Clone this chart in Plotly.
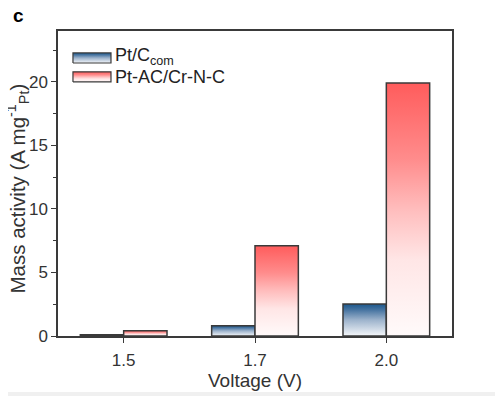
import plotly.graph_objects as go

categories = ["1.5", "1.7", "2.0"]
series_names = ["Pt/C<sub>com</sub>", "Pt-AC/Cr-N-C"]
pt_c_com = [0.10, 0.80, 2.52]
pt_ac_crnc = [0.42, 7.10, 19.90]
series_values = [pt_c_com, pt_ac_crnc]
y_title = "Mass activity (A mg<sup>-1</sup><sub>Pt</sub>)"
x_title = "Voltage (V)"

colorscales = [
    [[0, "#f5f7fa"], [0.5, "#9db3cc"], [0.8, "#4b77a3"], [1, "#1a578c"]],
    [[0, "#fffafa"], [0.3, "#ffe6e6"], [0.5, "#ffbdbd"], [0.7, "#ff8c8c"], [1, "#ff5c5c"]],
]
edge = "#3a3a3a"

bar_w = 0.33
offsets = [-bar_w / 2, bar_w / 2]

fig = go.Figure()
for s, (name, vals) in enumerate(zip(series_names, series_values)):
    for j, v in enumerate(vals):
        xc = j + offsets[s]
        x0, x1 = xc - bar_w / 2, xc + bar_w / 2
        fig.add_trace(go.Scatter(
            x=[x0, x1, x1, x0, x0],
            y=[0, 0, v, v, 0],
            mode="lines",
            fill="toself",
            fillgradient=dict(type="vertical", colorscale=colorscales[s], start=0, stop=v),
            line=dict(color=edge, width=1.5),
            name=name,
            showlegend=False,
            hoverinfo="skip",
        ))

# legend drawn on an overlay axis in paper-like units
leg_x0, leg_x1 = 0.038, 0.1345
leg_rows = [(0.895, 0.928), (0.833, 0.866)]
leg_text_y = [0.918, 0.848]
annotations = []
for s, name in enumerate(series_names):
    y0, y1 = leg_rows[s]
    fig.add_trace(go.Scatter(
        x=[leg_x0, leg_x1, leg_x1, leg_x0, leg_x0],
        y=[y0, y0, y1, y1, y0],
        xaxis="x2", yaxis="y2",
        mode="lines", fill="toself",
        fillgradient=dict(type="vertical", colorscale=colorscales[s], start=y0, stop=y1),
        line=dict(color=edge, width=1.2),
        showlegend=False, hoverinfo="skip",
    ))
    annotations.append(dict(text=name, xref="paper", yref="paper", x=0.139, y=leg_text_y[s],
                            xanchor="left", yanchor="middle", showarrow=False,
                            font=dict(size=18, color="#222222")))

annotations.append(dict(text="<b>c</b>", xref="paper", yref="paper", x=-0.12, y=1.05,
                        xanchor="left", yanchor="middle", showarrow=False,
                        font=dict(size=19, color="#000000")))
annotations.append(dict(text=y_title, xref="paper", yref="paper", x=-0.103, y=0.485,
                        xanchor="center", yanchor="middle", textangle=-90, showarrow=False,
                        font=dict(size=20.5, color="#333333")))

font = "Arial, Liberation Sans, sans-serif"
fig.update_layout(
    width=495, height=388,
    margin=dict(l=50, r=51, t=23, b=60, autoexpand=False),
    paper_bgcolor="white", plot_bgcolor="white",
    font=dict(family=font, size=17, color="#333333"),
    showlegend=False,
    xaxis=dict(
        range=[-0.5, 2.5], tickvals=[0, 1, 2], ticktext=categories, automargin=False,
        showline=True, linecolor=edge, linewidth=1.5, mirror=True,
        ticks="outside", ticklen=5, tickcolor=edge, showgrid=False, zeroline=False,
        ticklabelstandoff=3,
        title=dict(text=x_title, standoff=1, font=dict(size=19)),
    ),
    yaxis=dict(
        range=[0, 24], tickvals=[0, 5, 10, 15, 20], automargin=False,
        showline=True, linecolor=edge, linewidth=1.5, mirror=True,
        ticks="outside", ticklen=5, tickcolor=edge, showgrid=False, zeroline=False,
        minor=dict(dtick=2.5, ticks="outside", ticklen=3, tickcolor=edge),
    ),
    xaxis2=dict(overlaying="x", range=[0, 1], visible=False, fixedrange=True),
    yaxis2=dict(overlaying="y", range=[0, 1], visible=False, fixedrange=True),
    annotations=annotations,
    shapes=[dict(type="rect", xref="paper", yref="paper", x0=-0.2, x1=1.2,
                 y0=-0.3, y1=-0.184, fillcolor="#f0f0f0", line=dict(width=0), layer="below")],
)

fig.write_html("out.html")
